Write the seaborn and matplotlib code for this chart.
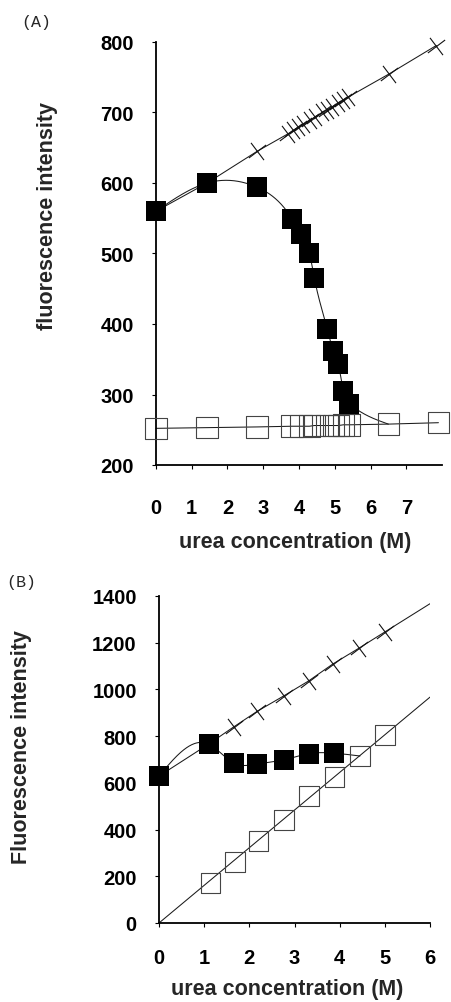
import numpy as np
import pandas as pd
import matplotlib
matplotlib.use("Agg")
import matplotlib.pyplot as plt
from matplotlib.markers import MarkerStyle
from matplotlib.transforms import Affine2D
import seaborn as sns

# ---- Panel A: urea titration, intensity 200-800 ----
ua_filled = [0, 1.43, 2.83, 3.81, 4.06, 4.29, 4.43, 4.79, 4.96, 5.10, 5.24, 5.41]
fa_filled = [560, 600, 594, 549, 528, 501, 465, 393, 362, 343, 305, 287]
ua_open = [0, 1.43, 2.83, 3.81, 4.06, 4.29, 4.43, 4.79, 4.96, 5.10, 5.24, 5.41, 6.50, 7.90]
fa_open = [252, 253, 254, 255, 255, 255, 256, 256, 256, 256, 257, 257, 258, 260]
ua_cross = [0, 1.43, 2.83, 3.70, 3.84, 3.98, 4.12, 4.31, 4.45, 4.65, 4.79, 4.93,
            5.10, 5.24, 5.38, 6.53, 7.84]
fa_cross = [560, 600, 645, 670, 675, 679, 683, 689, 694, 700, 704, 708,
            714, 718, 722, 755, 795]
a_xticks = [0, 1, 2, 3, 4, 5, 6, 7]
a_yticks = [200, 300, 400, 500, 600, 700, 800]

# ---- Panel B: urea titration, intensity 0-1400 ----
ub_filled = [0, 1.10, 1.65, 2.18, 2.76, 3.31, 3.88]
fb_filled = [629, 766, 685, 681, 698, 725, 727]
ub_open = [1.14, 1.68, 2.20, 2.77, 3.32, 3.88, 4.45, 5.00]
fb_open = [171, 261, 351, 441, 544, 625, 715, 805]
ub_open_fit = [0, 6]
fb_open_fit = [0, 967]
ub_cross = [0, 1.10, 1.65, 2.18, 2.76, 3.31, 3.85, 4.43, 5.00, 6.00]
fb_cross = [629, 766, 839, 907, 972, 1036, 1109, 1177, 1246, 1367]
b_xticks = [0, 1, 2, 3, 4, 5, 6]
b_yticks = [0, 200, 400, 600, 800, 1000, 1200, 1400]

sns.set_style("ticks")
plt.rcParams["font.family"] = ["Liberation Sans", "DejaVu Sans"]
plt.rcParams["font.weight"] = "bold"
plt.rcParams["axes.labelweight"] = "bold"


def natural_spline(x, y, n=400):
    """Natural cubic spline through (x, y), returned as a dense curve."""
    x = np.asarray(x, float)
    y = np.asarray(y, float)
    m = len(x)
    h = np.diff(x)
    A = np.zeros((m, m))
    r = np.zeros(m)
    A[0, 0] = A[-1, -1] = 1.0
    for i in range(1, m - 1):
        A[i, i - 1] = h[i - 1]
        A[i, i] = 2 * (h[i - 1] + h[i])
        A[i, i + 1] = h[i]
        r[i] = 6 * ((y[i + 1] - y[i]) / h[i] - (y[i] - y[i - 1]) / h[i - 1])
    M = np.linalg.solve(A, r)
    xs = np.linspace(x[0], x[-1], n)
    idx = np.clip(np.searchsorted(x, xs) - 1, 0, m - 2)
    x0, x1 = x[idx], x[idx + 1]
    hh = x1 - x0
    t0 = x1 - xs
    t1 = xs - x0
    ys = (M[idx] * t0 ** 3 / (6 * hh) + M[idx + 1] * t1 ** 3 / (6 * hh)
          + (y[idx] / hh - M[idx] * hh / 6) * t0
          + (y[idx + 1] / hh - M[idx + 1] * hh / 6) * t1)
    return xs, ys


def cross_marker(angle):
    return MarkerStyle("x", transform=Affine2D().rotate_deg(angle))


LINE = dict(color="#1a1a1a", lw=0.75)
LABEL_SIZE = 15.5
TICK_SIZE = 14.5


def style_axes(ax, xticks, yticks, xlim, ylim, xpad, ypad):
    sns.despine(ax=ax)
    ax.set_xlim(*xlim)
    ax.set_ylim(*ylim)
    ax.set_xticks(xticks)
    ax.set_yticks(yticks)
    ax.set_xticklabels([str(t) for t in xticks])
    ax.set_yticklabels([str(t) for t in yticks])
    for side in ("left", "bottom"):
        ax.spines[side].set_linewidth(1.3)
        ax.spines[side].set_color("black")
    ax.tick_params(axis="x", direction="out", length=3, width=0.8,
                   labelsize=TICK_SIZE, pad=xpad, colors="black")
    ax.tick_params(axis="y", direction="out", length=3, width=0.8,
                   labelsize=TICK_SIZE, pad=ypad, colors="black")
    for lab in ax.get_xticklabels() + ax.get_yticklabels():
        lab.set_fontweight("bold")
    ax.set_facecolor("white")


fig = plt.figure(figsize=(4.52, 10.03), dpi=100)
fig.patch.set_facecolor("white")

# ================= Panel A =================
axA = fig.add_axes([156 / 452, 1 - 466 / 1003, 286 / 452, 423 / 1003])

# open squares and their connecting line
sns.lineplot(x=ua_open, y=fa_open, ax=axA, sort=False, estimator=None, **LINE)
axA.lines[-1].set_clip_on(False)
sns.scatterplot(x=ua_open, y=fa_open, ax=axA, marker="s", s=15.5 ** 2,
                facecolor="none", edgecolor="#444444", linewidth=0.8,
                clip_on=False, zorder=3)

# crosses on a straight line
sns.lineplot(x=ua_cross, y=fa_cross, ax=axA, sort=False, estimator=None, **LINE)
axA.lines[-1].set_clip_on(False)
sns.scatterplot(x=ua_cross[2:], y=fa_cross[2:], ax=axA, marker=cross_marker(-8),
                s=11 ** 2, color="#111111", linewidth=0.8, clip_on=False, zorder=4)

# filled squares with a smooth curve that runs into the open-square baseline
xa_curve, ya_curve = natural_spline(ua_filled + [ua_open[12]], fa_filled + [fa_open[12]])
axA.plot(xa_curve, ya_curve, zorder=2, **LINE)
sns.scatterplot(x=ua_filled, y=fa_filled, ax=axA, marker="s", s=15 ** 2,
                color="black", linewidth=0, clip_on=False, zorder=5)

style_axes(axA, a_xticks, a_yticks, (0, 8.0), (200, 800), xpad=21, ypad=13)
axA.set_xlabel("urea concentration (M)", fontsize=LABEL_SIZE, fontweight="bold")
axA.set_ylabel("fluorescence intensity", fontsize=LABEL_SIZE, fontweight="bold")
axA.xaxis.set_label_coords(0.486, -77 / 423)
axA.xaxis.label.set_verticalalignment("center")
axA.yaxis.set_label_coords(-0.378, 0.591)
axA.yaxis.label.set_verticalalignment("center")

# ================= Panel B =================
axB = fig.add_axes([159 / 452, 1 - 924 / 1003, 271 / 452, 327 / 1003])

# open squares with their fitted straight line through the origin
sns.lineplot(x=ub_open_fit, y=fb_open_fit, ax=axB, sort=False, estimator=None, **LINE)
sns.scatterplot(x=ub_open, y=fb_open, ax=axB, marker="s", s=14 ** 2,
                facecolor="none", edgecolor="#444444", linewidth=0.8,
                clip_on=False, zorder=3)

# crosses on a straight line
sns.lineplot(x=ub_cross, y=fb_cross, ax=axB, sort=False, estimator=None, **LINE)
sns.scatterplot(x=ub_cross[2:-1], y=fb_cross[2:-1], ax=axB, marker=cross_marker(-8),
                s=11 ** 2, color="#111111", linewidth=0.8, clip_on=False, zorder=4)

# filled squares joined by a smooth curve ending on the open series
xb_curve, yb_curve = natural_spline(ub_filled + [ub_open[6]], fb_filled + [fb_open[6]])
axB.plot(xb_curve, yb_curve, zorder=2, **LINE)
sns.scatterplot(x=ub_filled, y=fb_filled, ax=axB, marker="s", s=14.5 ** 2,
                color="black", linewidth=0, clip_on=False, zorder=5)

style_axes(axB, b_xticks, b_yticks, (0, 6), (0, 1400), xpad=15, ypad=13)
axB.set_xlabel("urea concentration (M)", fontsize=LABEL_SIZE, fontweight="bold")
axB.set_ylabel("Fluorescence intensity", fontsize=LABEL_SIZE, fontweight="bold")
axB.xaxis.set_label_coords(0.472, -66 / 327)
axB.xaxis.label.set_verticalalignment("center")
axB.yaxis.set_label_coords(-0.506, 0.54)
axB.yaxis.label.set_verticalalignment("center")

# panel letters
fig.text(36 / 452, 1 - 22 / 1003, "(A)", family="Liberation Mono", fontsize=12,
         fontweight="normal", ha="center", va="center")
fig.text(21 / 452, 1 - 582 / 1003, "(B)", family="Liberation Mono", fontsize=12,
         fontweight="normal", ha="center", va="center")

fig.savefig("out.png", dpi=100, facecolor="white")
